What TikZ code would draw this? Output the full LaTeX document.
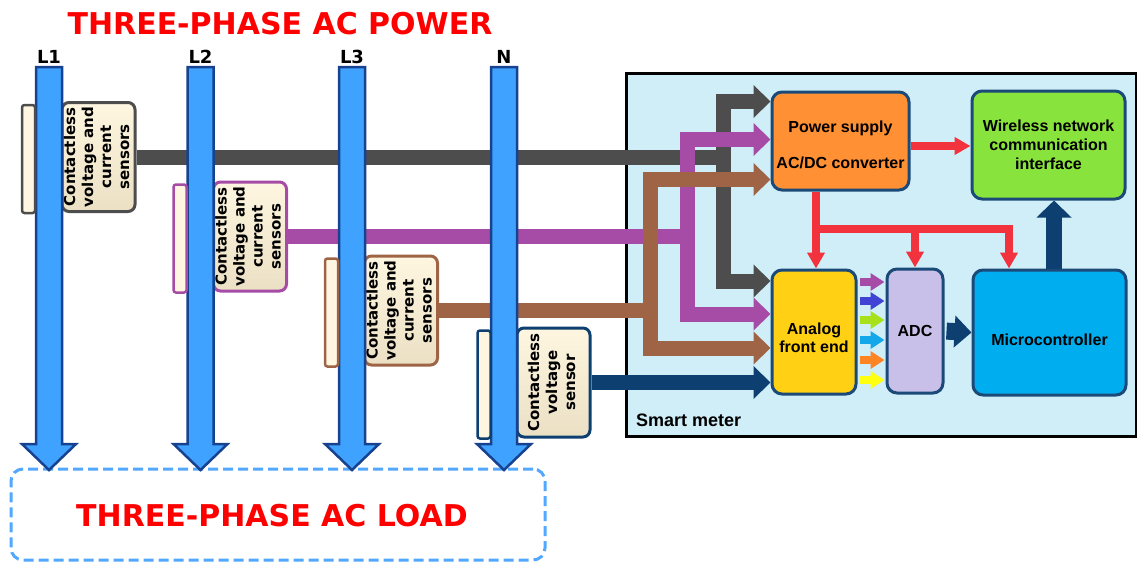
\documentclass[tikz,border=0pt]{standalone}
\usepackage{fontspec}
\setmainfont{Liberation Sans}
\newfontfamily\dvs{DejaVu Sans}
\usepackage{graphicx}
\usetikzlibrary{arrows.meta,calc}
\definecolor{cgray}{HTML}{4D4D4D}
\definecolor{cpurple}{HTML}{A64CA6}
\definecolor{cbrown}{HTML}{9F6446}
\definecolor{cnavy}{HTML}{0D3F70}
\definecolor{meterfill}{HTML}{CFEEF8}
\definecolor{psorange}{HTML}{FF9033}
\definecolor{wlgreen}{HTML}{89E33D}
\definecolor{afeyellow}{HTML}{FFD014}
\definecolor{adclav}{HTML}{C8C0E8}
\definecolor{mcublue}{HTML}{00AEEF}
\definecolor{boxline}{HTML}{1C4A78}
\definecolor{cred}{HTML}{F2323C}
\definecolor{barfill}{HTML}{40A2FF}
\definecolor{barline}{HTML}{17428F}
\definecolor{loadline}{HTML}{52A8FF}
\definecolor{cream}{HTML}{FEF6E0}
\definecolor{creamb}{HTML}{EBE0C4}
\definecolor{titlered}{HTML}{FF0000}
\definecolor{rA}{HTML}{A64CA6}
\definecolor{rB}{HTML}{4242D4}
\definecolor{rC}{HTML}{A8E01A}
\definecolor{rD}{HTML}{14A8EA}
\definecolor{rE}{HTML}{FF8424}
\definecolor{rF}{HTML}{FFFF10}
\newcommand\titlefnt{\dvs\bfseries\fontsize{30}{36}\selectfont}
\newcommand\sensfnt{\dvs\bfseries\fontsize{15}{18}\selectfont}
\newcommand\boxfnt{\bfseries\fontsize{16}{19}\selectfont}
\newcommand\phfnt{\dvs\bfseries\fontsize{18}{20}\selectfont}
\newcommand\smfnt{\bfseries\fontsize{18}{20}\selectfont}
\begin{document}
\begin{tikzpicture}[x=1pt,y=-1pt,
  mbox/.style={draw=boxline,line width=3pt,rounded corners=10pt,font=\boxfnt,align=center,inner sep=0pt},
  mtext/.style={font=\boxfnt,align=center,inner sep=0pt},
  sbox/.style={rounded corners=7pt,line width=3pt,top color=cream,bottom color=creamb,inner sep=0pt,
     minimum width=73pt,minimum height=109pt,font=\sensfnt},
  clampbox/.style={rounded corners=2.5pt,line width=2.5pt,fill=cream,minimum width=13pt,minimum height=108pt,inner sep=0pt},
  sig/.style={line width=15pt,line join=miter},
  sigarr/.style={sig,-{Triangle[length=17pt,width=32pt]}},
  redarr/.style={line width=8pt,line join=miter,cred,-{Triangle[length=16pt,width=17pt]}},
  navyarr/.style={cnavy,line width=17pt,-{Triangle[length=17pt,width=31pt]}},
  rbarr/.style={line width=8pt,-{Triangle[length=14pt,width=17pt]},shorten <=2pt,shorten >=1pt},
  bar/.style={draw=barline,line width=2.5pt,fill=barfill,line join=miter},
  redtitle/.style={font=\titlefnt,text=titlered,inner sep=0pt},
  phlabel/.style={font=\phfnt,inner sep=0pt,anchor=base}]
\useasboundingbox (0,0) rectangle (1137,562);

% title
\node[redtitle,anchor=base] (title) at (280,34) {THREE-PHASE AC POWER};

% smart meter enclosure
\node[draw=black,line width=3pt,fill=meterfill,minimum width=510pt,minimum height=363pt,inner sep=0pt] (sm) at (881,254.5) {};
\node[font=\smfnt,anchor=base west,inner sep=0pt] (smlbl) at (636,426) {Smart meter};

% meter blocks
\node[mbox,fill=psorange,minimum width=137pt,minimum height=98pt,
  label={[mtext,yshift=-4pt]center:{Power supply\\[17pt]AC/DC converter}}] (ps) at (840.5,141) {};
\node[mbox,fill=wlgreen,minimum width=153pt,minimum height=108pt] (wl) at (1048.5,145)
  {Wireless network\\communication\\interface};
\node[mbox,fill=afeyellow,minimum width=84pt,minimum height=124pt,
  label={[mtext,yshift=-6pt,font=\bfseries\fontsize{16}{18}\selectfont]center:{Analog\\front end}}] (afe) at (814,332) {};
\node[mbox,fill=adclav,minimum width=56pt,minimum height=124pt] (adc) at (915,331) {ADC};
\node[mbox,fill=mcublue,minimum width=153pt,minimum height=125pt,
  label={[mtext,yshift=-7.5pt]center:Microcontroller}] (mcu) at (1049.5,332.5) {};

% red power distribution
\draw[redarr] ([yshift=-5pt]ps.east) -- ([yshift=-5pt]ps.east -| wl.west);
\coordinate (rdrop) at ([xshift=-24.5pt]ps.south);
\coordinate (ybus) at (0,229);
\coordinate (rbus) at (rdrop |- ybus);
\coordinate (mcudrop) at ([xshift=-40.5pt]mcu.north);
\draw[redarr] (rdrop) -- (rdrop |- afe.north);
\draw[redarr] (rbus) -| (mcudrop);
\draw[redarr] (rbus -| adc.north) -- (adc.north);

% data arrows
\draw[navyarr,shorten <=2pt] (adc.east) -- (mcu.west);
\coordinate (mup) at ([xshift=4.5pt]mcu.north);
\draw[cnavy,line width=16pt,-{Triangle[length=17pt,width=34pt]}] (mup) -- (mup |- wl.south);

\foreach \yy/\cc in {282/rA,301/rB,320/rC,340/rD,360/rE,380/rF}{
  \coordinate (ry) at (0,\yy);
  \draw[rbarr,draw=\cc] (afe.east |- ry) -- (adc.west |- ry);
}

% load box
\node[draw=loadline,line width=3pt,dash pattern=on 10pt off 5pt,rounded corners=12pt,
  minimum width=534pt,minimum height=91pt,inner sep=0pt] (load) at (278,514.5) {};
\node[redtitle,anchor=base] (loadtxt) at (272,526) {THREE-PHASE AC LOAD};

% sensors
\node[sbox,draw=cgray] (s1) at (98.5,157) {\rotatebox{90}{\begin{tabular}{@{}c@{}}Contactless\\voltage and\\current\\sensors\end{tabular}}};
\node[sbox,draw=cpurple] (s2) at (250,236.5) {\rotatebox{90}{\begin{tabular}{@{}c@{}}Contactless\\voltage and\\current\\sensors\end{tabular}}};
\node[sbox,draw=cbrown] (s3) at (401,310.5) {\rotatebox{90}{\begin{tabular}{@{}c@{}}Contactless\\voltage and\\current\\sensors\end{tabular}}};
\node[sbox,draw=cnavy] (s4) at (553.5,382.5) {\rotatebox{90}{\begin{tabular}{@{}c@{}}Contactless\\voltage\\sensor\end{tabular}}};

% signal lines: gray (L1)
\coordinate (gy1) at (0,101.5);
\coordinate (gy2) at (0,281);
\coordinate (gx) at (723,0);
\coordinate (gj) at (gx |- s1.east);
\draw[sig,cgray] (s1.east) -- (gj);
\draw[sigarr,cgray] (gj) |- (ps.west |- gy1);
\draw[sigarr,cgray] (gj) |- (afe.west |- gy2);
% purple (L2)
\coordinate (py1) at (0,139.5);
\coordinate (py2) at (0,314);
\coordinate (px) at (687.5,0);
\coordinate (pj) at (px |- s2.east);
\draw[sig,cpurple] (s2.east) -- (pj);
\draw[sigarr,cpurple] (pj) |- (ps.west |- py1);
\draw[sigarr,cpurple] (pj) |- (afe.west |- py2);
% brown (L3)
\coordinate (by1) at (0,179.5);
\coordinate (by2) at (0,348);
\coordinate (bx) at (650,0);
\coordinate (bj) at (bx |- s3.east);
\draw[sig,cbrown] (s3.east) -- (bj);
\draw[sigarr,cbrown] (bj) |- (ps.west |- by1);
\draw[sigarr,cbrown] (bj) |- (afe.west |- by2);
% navy (N)
\draw[sigarr,cnavy] (s4.east) -- (s4.east -| afe.west);

% phase conductors
\foreach \bx in {49,200.5,352,504}{
  \draw[bar] (\bx-13,67) -- (\bx+13,67) -- (\bx+13,444) -- (\bx+27,444) -- (\bx,470)
     -- (\bx-27,444) -- (\bx-13,444) -- cycle;
}
\node[phlabel] (lab1) at (49,63) {L1};
\node[phlabel] (lab2) at (200.5,63) {L2};
\node[phlabel] (lab3) at (352,63) {L3};
\node[phlabel] (labn) at (504,63) {N};

% clamps
\node[clampbox,draw=cgray] (c1) at (28.5,159) {};
\node[clampbox,draw=cpurple] (c2) at (180,238.5) {};
\node[clampbox,draw=cbrown] (c3) at (331.5,312.5) {};
\node[clampbox,draw=cnavy] (c4) at (484,384.5) {};
\end{tikzpicture}
\end{document}
